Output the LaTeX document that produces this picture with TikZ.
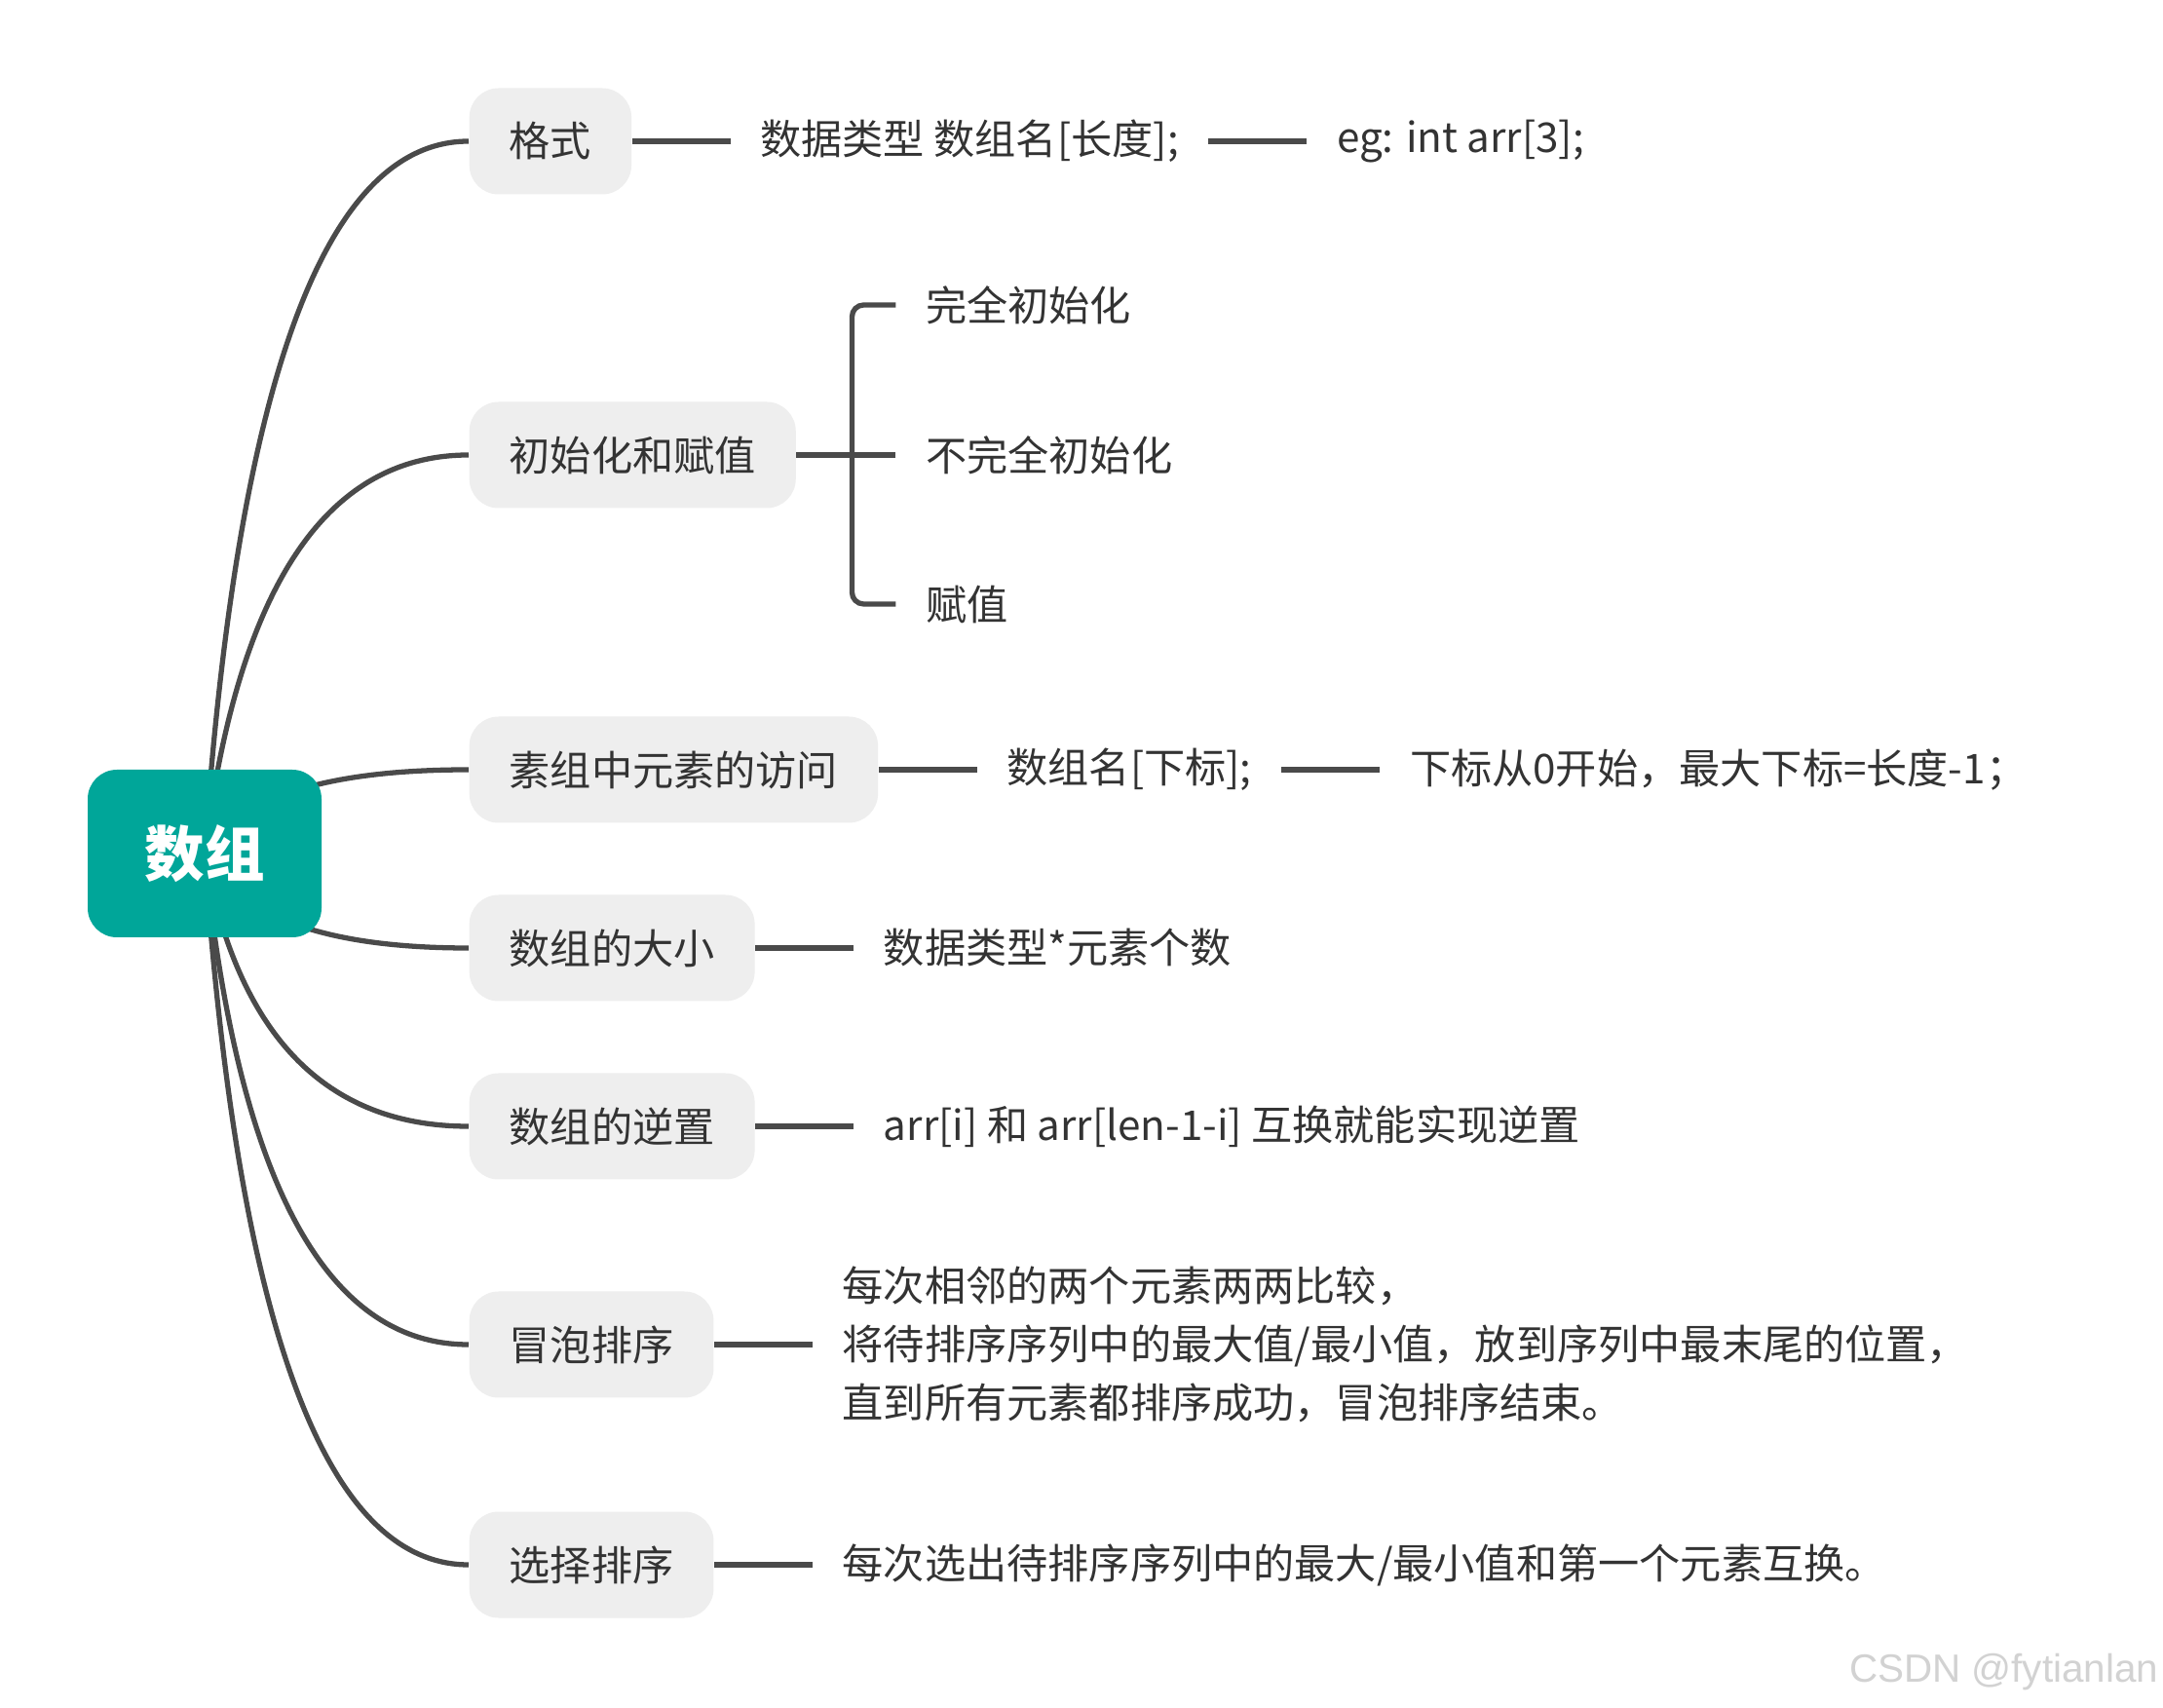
\documentclass[tikz,border=0pt]{standalone}
\usepackage{fontspec}
\setmainfont{Noto Sans CJK SC}
\newfontfamily\markfont{Liberation Sans}
\usetikzlibrary{positioning,calc,backgrounds}
\definecolor{rootteal}{HTML}{00A699}
\definecolor{boxgray}{HTML}{EEEEEE}
\definecolor{linegray}{HTML}{4A4A4A}
\definecolor{textdark}{HTML}{333333}
\definecolor{markgray}{HTML}{D2D2D2}
\tikzset{%
   rootbox/.style={fill=rootteal, rounded corners=0.3cm, minimum width=2.40cm,
      minimum height=1.72cm, text=white, font=\fontsize{17.5pt}{20pt}\selectfont\bfseries},
   topic/.style={fill=boxgray, rounded corners=0.3cm, minimum height=1.09cm,
      inner xsep=0.41cm, text=textdark, font=\fontsize{12pt}{14pt}\selectfont, anchor=west},
   desc/.style={inner xsep=0.30cm, text=textdark, font=\fontsize{12pt}{17pt}\selectfont, align=left},
   branch/.style={draw=linegray, line width=1.5pt},
}
\begin{document}
\begin{tikzpicture}%
      \useasboundingbox (0,0) rectangle (22.2,17.52);%
      % ~ root
      \node[rootbox] (root) at (2.10,8.76) {数组};%
      % ~ topics
      \foreach \nm/\y/\txt in {fmt/16.07/格式, init/12.85/初始化和赋值,
         visit/9.62/素组中元素的访问, size/7.79/数组的大小, rev/5.96/数组的逆置,
         bubble/3.72/冒泡排序, select/1.46/选择排序}%
         {%
            \node[topic] (\nm) at (4.81,\y) {\txt};%
         }%
      % ~ details
      \node[desc, right=1.01cm of fmt] (fmtdecl) {数据类型 数组名[长度];};%
      \node[desc, right=1.01cm of fmtdecl] (fmteg) {eg: int arr[3];};%
      \node[desc, right=1.02cm of init] (initpart) {不完全初始化};%
      \node[desc, anchor=west] (initfull) at ($(initpart.west)+(0,1.54)$) {完全初始化};%
      \node[desc, anchor=west] (initset) at ($(initpart.west)+(0,-1.53)$) {赋值};%
      \node[desc, right=1.01cm of visit] (visitexpr) {数组名[下标];};%
      \node[desc, right=1.01cm of visitexpr] (visitidx) {下标从0开始，最大下标=长度-1；};%
      \node[desc, right=1.01cm of size] (sizeexpr) {数据类型*元素个数};%
      \node[desc, right=1.01cm of rev] (revexpr) {arr[i] 和 arr[len-1-i] 互换就能实现逆置};%
      \node[desc, right=1.01cm of bubble] (bubbletxt) {每次相邻的两个元素两两比较，\\
         将待排序序列中的最大值/最小值，放到序列中最末尾的位置，\\
         直到所有元素都排序成功，冒泡排序结束。};%
      \node[desc, right=1.01cm of select] (selecttxt) {每次选出待排序序列中的最大/最小值和第一个元素互换。};%
      % ~ mark
      \node[text=markgray, font=\markfont\fontsize{11.5pt}{13pt}\selectfont, anchor=east,
         inner sep=0pt] (mark) at (22.16,0.36) {CSDN @fytianlan};%
      % ~ lines
      \draw[branch] (fmt) -- (fmtdecl);%
      \draw[branch] (fmtdecl) -- (fmteg);%
      \draw[branch] (visit) -- (visitexpr);%
      \draw[branch] (visitexpr) -- (visitidx);%
      \draw[branch] (size) -- (sizeexpr);%
      \draw[branch] (rev) -- (revexpr);%
      \draw[branch] (bubble) -- (bubbletxt);%
      \draw[branch] (select) -- (selecttxt);%
      \draw[branch] (init.east) -- (initpart.west);%
      \coordinate (fork) at ([xshift=0.57cm]init.east);%
      \draw[branch, rounded corners=0.12cm] (fork) |- (initfull.west);%
      \draw[branch, rounded corners=0.12cm] (fork) |- (initset.west);%
      % ~ branches
      \begin{scope}[on background layer]%
         \fill[white] (0,0) rectangle (22.2,17.52);%
         \foreach \nm in {fmt,init,visit,size,rev,bubble,select}%
            {%
               \coordinate (q) at (root.center |- \nm.west);%
               \coordinate (q) at ([xshift=0.51cm]q);%
               \draw[branch] (root.center) .. controls ($(root.center)!2/3!(q)$)
                  and ($(\nm.west)!2/3!(q)$) .. (\nm.west);%
            }%
      \end{scope}%
   \end{tikzpicture}
\end{document}
